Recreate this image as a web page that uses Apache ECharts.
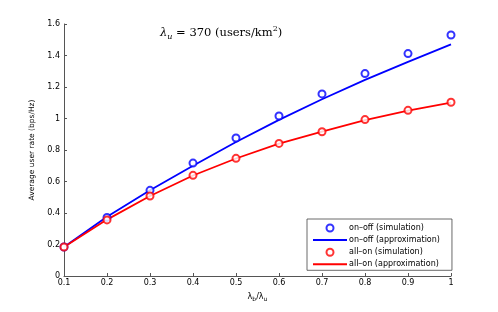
<!DOCTYPE html>
<html><head><meta charset="utf-8">
<script src="https://cdn.jsdelivr.net/npm/echarts@6/dist/echarts.min.js"></script>
<style>html,body{margin:0;padding:0;background:#fff}#c{width:498px;height:312px}</style>
</head><body><div id="c"></div>
<script>
const ratio = [0.1, 0.2, 0.3, 0.4, 0.5, 0.6, 0.7, 0.8, 0.9, 1.0];
const onoffSim = [0.184, 0.372, 0.544, 0.717, 0.876, 1.016, 1.156, 1.285, 1.412, 1.530];
const onoffApprox = [0.184, 0.376, 0.545, 0.700, 0.851, 0.991, 1.122, 1.245, 1.360, 1.471];
const allonSim = [0.184, 0.356, 0.508, 0.639, 0.747, 0.842, 0.916, 0.993, 1.052, 1.103];
const allonApprox = [0.184, 0.358, 0.508, 0.638, 0.746, 0.841, 0.917, 0.990, 1.050, 1.101];
const xTicks = ['0.1','0.2','0.3','0.4','0.5','0.6','0.7','0.8','0.9','1'];
const names = ['on\u2013off (simulation)','on\u2013off (approximation)','all\u2013on (simulation)','all\u2013on (approximation)'];

const pair = ys => ratio.map((x,i)=>[x, ys[i]]);
const font = 'DejaVu Sans, sans-serif';
const serif = 'DejaVu Serif, Liberation Serif, serif';
const chart = echarts.init(document.getElementById('c'), null, {renderer:'canvas'});
chart.setOption({
  animation:false,
  backgroundColor:'#fff',
  title:{
    left:155, top:20,
    text:'{l|\u03bb}{s|u}{t| = 370 (users/km}{p|2}{t|)}',
    textStyle:{fontWeight:'normal',rich:{
      l:{fontFamily:serif,fontStyle:'italic',fontWeight:'normal',fontSize:11.5,lineHeight:16,verticalAlign:'middle',color:'#000'},
      s:{fontFamily:serif,fontStyle:'italic',fontWeight:'normal',fontSize:8,lineHeight:8,verticalAlign:'bottom',color:'#000'},
      t:{fontFamily:serif,fontWeight:'normal',fontSize:11.5,lineHeight:16,verticalAlign:'middle',color:'#000'},
      p:{fontFamily:serif,fontWeight:'normal',fontSize:8,lineHeight:8,verticalAlign:'top',color:'#000'}
    }}
  },
  grid:{left:64,right:47,top:24,bottom:36,containLabel:false},
  legend:{
    orient:'vertical', left:307, top:219, width:143,
    backgroundColor:'#fff', borderColor:'#444', borderWidth:0.8,
    padding:[4.5,12,2,5],
    itemWidth:34, itemHeight:7, itemGap:3.6,
    textStyle:{fontFamily:font,fontSize:8,lineHeight:8,color:'#000',padding:[0,0,0,-3]},
    data:[
      {name:names[0]},
      {name:names[1],itemStyle:{opacity:0}},
      {name:names[2]},
      {name:names[3],itemStyle:{opacity:0}}
    ]
  },
  xAxis:{
    type:'value', min:0.1, max:1, interval:0.1,
    name:'{l|\u03bb}{s|b}{l|/\u03bb}{s|u}', nameLocation:'middle', nameGap:16,
    nameTextStyle:{rich:{
      l:{fontFamily:font,fontSize:8,lineHeight:10,verticalAlign:'middle',color:'#000'},
      s:{fontFamily:font,fontSize:6,lineHeight:6,verticalAlign:'bottom',color:'#000'}
    }},
    axisLine:{show:true,onZero:false,lineStyle:{color:'#555',width:1}},
    axisTick:{show:true,inside:true,length:3,lineStyle:{color:'#555'}},
    axisLabel:{fontFamily:font,fontSize:8,color:'#000',margin:3,
      formatter:v=>xTicks[Math.round(v*10)-1] || ''},
    splitLine:{show:false}
  },
  yAxis:{
    type:'value', min:0, max:1.6, interval:0.2,
    name:'Average user rate (bps/Hz)', nameLocation:'middle', nameGap:12,
    nameTextStyle:{fontFamily:font,fontSize:7.5,color:'#000'},
    axisLine:{show:true,onZero:false,lineStyle:{color:'#555',width:1}},
    axisTick:{show:true,inside:true,length:3,lineStyle:{color:'#555'}},
    axisLabel:{fontFamily:font,fontSize:8,color:'#000',margin:4},
    splitLine:{show:false}
  },
  series:[
    {name:names[0],type:'scatter',data:pair(onoffSim),symbol:'emptyCircle',symbolSize:7,
     itemStyle:{color:'#0000ff',borderColor:'#0000ff',borderWidth:1.8},z:3},
    {name:names[1],type:'line',data:pair(onoffApprox),symbol:'none',showSymbol:false,
     lineStyle:{color:'#0000ff',width:1.8},itemStyle:{color:'#0000ff'},z:2},
    {name:names[2],type:'scatter',data:pair(allonSim),symbol:'emptyCircle',symbolSize:7,
     itemStyle:{color:'#ff0000',borderColor:'#ff0000',borderWidth:1.8},z:3},
    {name:names[3],type:'line',data:pair(allonApprox),symbol:'none',showSymbol:false,
     lineStyle:{color:'#ff0000',width:1.8},itemStyle:{color:'#ff0000'},z:2}
  ]
});
</script></body></html>
